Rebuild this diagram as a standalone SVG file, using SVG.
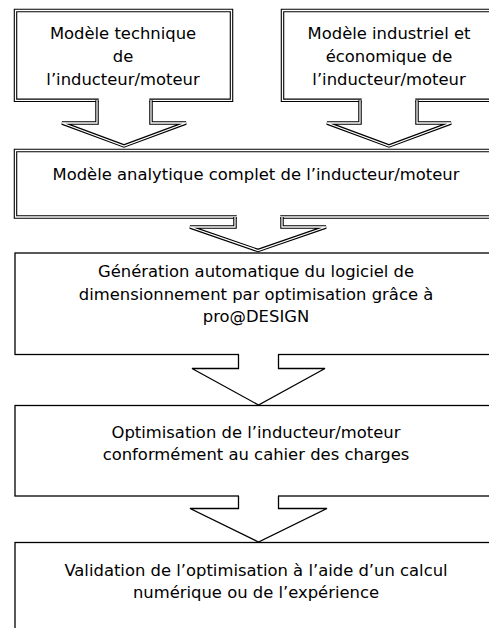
<svg xmlns="http://www.w3.org/2000/svg" xmlns:xlink="http://www.w3.org/1999/xlink" width="489" height="628" viewBox="0 0 489 628">
<style>
.dbl{fill:none;stroke:#000;stroke-width:3.5;stroke-linejoin:miter}
.dblw{fill:none;stroke:#fff;stroke-width:1.3;stroke-linejoin:miter}
.sgl{fill:#fff;stroke:#000;stroke-width:1.3}
.sgl2{fill:none;stroke:#000;stroke-width:1.3}
.cover{fill:#fff;stroke:none}
.t{font-family:"DejaVu Sans",Verdana,sans-serif;font-size:16.4px;fill:#000;text-anchor:middle}
</style>
<defs>
<path id="b1" d="M15.5,10.5 H231.5 V100.3 H15.5 Z"/>
<path id="b2" d="M282.5,10.5 H500 V100.3 H282.5 Z"/>
<path id="b3" d="M15.5,150.5 H500 V217 H15.5 Z"/>
<path id="a1" d="M97,100.3 V123 H62 L124,146 L186,123 H151 V100.3"/>
<path id="a2" d="M360,100.3 V123 H327 L389,146 L451,123 H417 V100.3"/>
<path id="a3" d="M235,217 V227 H190 L258,250.5 L326,227 H282 V217"/>
</defs>
<rect width="489" height="628" fill="#fff"/>
<g id="node-modele-technique">
<use xlink:href="#b1" class="dbl"/>
<use xlink:href="#b1" class="dblw"/>
<text class="t" x="123" y="39">Modèle technique</text>
<text class="t" x="123" y="62">de</text>
<text class="t" x="123" y="85">l’inducteur/moteur</text>
</g>
<g id="node-modele-industriel">
<use xlink:href="#b2" class="dbl"/>
<use xlink:href="#b2" class="dblw"/>
<text class="t" x="389" y="39">Modèle industriel et</text>
<text class="t" x="389" y="62">économique de</text>
<text class="t" x="389" y="85">l’inducteur/moteur</text>
</g>
<g id="node-modele-analytique">
<use xlink:href="#b3" class="dbl"/>
<use xlink:href="#b3" class="dblw"/>
<text class="t" x="256" y="180">Modèle analytique complet de l’inducteur/moteur</text>
</g>
<g id="node-generation">
<rect class="sgl" x="15" y="253" width="490" height="101.5"/>
<text class="t" x="256" y="277">Génération automatique du logiciel de</text>
<text class="t" x="256" y="300">dimensionnement par optimisation grâce à</text>
<text class="t" x="256" y="322">pro@DESIGN</text>
</g>
<g id="node-optimisation">
<rect class="sgl" x="15" y="405.5" width="490" height="90.5"/>
<text class="t" x="256" y="437.5">Optimisation de l’inducteur/moteur</text>
<text class="t" x="256" y="460">conformément au cahier des charges</text>
</g>
<g id="node-validation">
<rect class="sgl" x="15" y="542.5" width="490" height="100"/>
<text class="t" x="256" y="575.5">Validation de l’optimisation à l’aide d’un calcul</text>
<text class="t" x="256" y="598">numérique ou de l’expérience</text>
</g>
<g id="connectors">
<rect class="cover" x="98.75" y="96" width="50.5" height="28"/>
<use xlink:href="#a1" class="dbl"/>
<use xlink:href="#a1" class="dblw"/>
<rect class="cover" x="361.75" y="96" width="53.5" height="28"/>
<use xlink:href="#a2" class="dbl"/>
<use xlink:href="#a2" class="dblw"/>
<rect class="cover" x="236.75" y="213" width="43.5" height="15"/>
<use xlink:href="#a3" class="dbl"/>
<use xlink:href="#a3" class="dblw"/>
<path class="cover" d="M239,352 H278 V369 H239 Z"/>
<path class="sgl2" d="M238.5,354.5 V368.5 H192 L258.5,405 L325,368.5 H278.5 V354.5"/>
<path class="cover" d="M239,494 H278 V509 H239 Z"/>
<path class="sgl2" d="M238.5,496 V508.5 H190 L258.5,542 L327,508.5 H278.5 V496"/>
</g>
</svg>
